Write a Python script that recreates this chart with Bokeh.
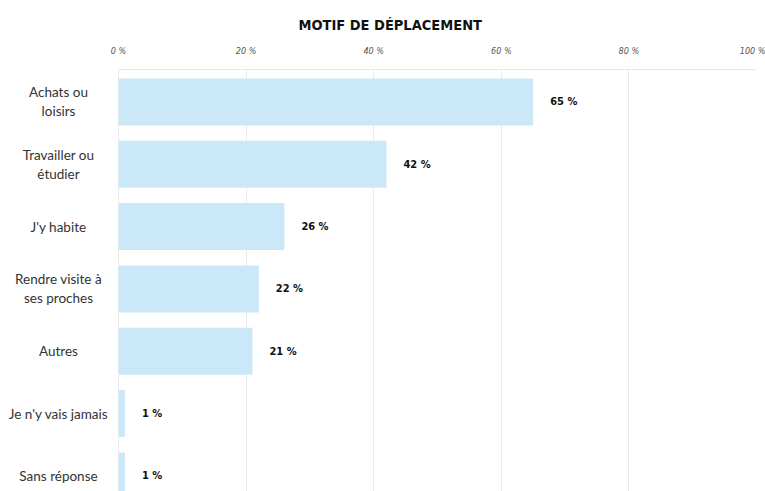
from bokeh.plotting import figure
from bokeh.models import Range1d, FixedTicker, ColumnDataSource, LabelSet
from bokeh.core.properties import value
from bokeh.embed import file_html
from bokeh.resources import INLINE

categories = ["Achats ou\nloisirs", "Travailler ou\nétudier", "J'y habite",
              "Rendre visite à\nses proches", "Autres", "Je n'y vais jamais", "Sans réponse"]
values = [65, 42, 26, 22, 21, 1, 1]
value_labels = ["65 %", "42 %", "26 %", "22 %", "21 %", "1 %", "1 %"]
x_ticks = [0, 20, 40, 60, 80, 100]
x_tick_labels = ["0 %", "20 %", "40 %", "60 %", "80 %", "100 %"]

NARROW = "'Liberation Sans Narrow', 'DejaVu Sans Condensed', sans-serif"
LINE_GAP = 19  # px between lines of a two-line category label

positions = list(range(len(categories)))
src = ColumnDataSource(dict(y=positions, v=values, lab=value_labels))

# split category labels into centred single lines
line_y, line_txt, line_off = [], [], []
for pos, cat in zip(positions, categories):
    parts = cat.split("\n")
    n = len(parts)
    for i, part in enumerate(parts):
        line_y.append(pos)
        line_txt.append(part)
        line_off.append(((n - 1) / 2 - i) * LINE_GAP)
cat_src = ColumnDataSource(dict(y=line_y, t=line_txt, off=line_off, zero=[0] * len(line_y)))

# frame spans the whole width; the label column lives left of 0 %
p = figure(width=765, height=491, output_backend="svg", toolbar_location=None,
           x_range=Range1d(-118 / 6.38, 100), y_range=Range1d(6.25, -0.52),
           x_axis_location="above", min_border_left=0, min_border_right=9,
           min_border_top=69, min_border_bottom=0)
p.outline_line_color = None
p.background_fill_color = "white"
p.border_fill_color = "white"

p.hbar(y="y", right="v", left=0, height=0.755, source=src,
       fill_color="#cbe8f9", line_color=None)

# top axis
xa = p.xaxis[0]
xa.ticker = FixedTicker(ticks=x_ticks)
xa.bounds = (0, 100)
xa.major_label_overrides = {t: l for t, l in zip(x_ticks, x_tick_labels)}
xa.axis_line_color = "#e6e6e6"
xa.major_tick_line_color = None
xa.minor_tick_line_color = None
xa.major_label_standoff = 8
xa.major_label_text_font = NARROW
xa.major_label_text_font_style = "italic"
xa.major_label_text_font_size = "9px"
xa.major_label_text_color = "#555555"

p.yaxis.visible = False
p.ygrid.grid_line_color = None
p.xgrid.ticker = FixedTicker(ticks=x_ticks)
p.xgrid.grid_line_color = "#ebebeb"

# category labels
cat_labels = LabelSet(x="zero", y="y", text="t", source=cat_src, x_offset=-60,
                      y_offset="off", text_align="center", text_baseline="middle",
                      text_font=value("Lato"), text_font_size="13.5px",
                      text_color="#333333")
p.add_layout(cat_labels)

# value labels
val_labels = LabelSet(x="v", y="y", text="lab", source=src, x_offset=17,
                      text_align="left", text_baseline="middle",
                      text_font=value(NARROW), text_font_style="bold",
                      text_font_size="11px", text_color="#111111")
p.add_layout(val_labels)

p.title.text = "MOTIF DE DÉPLACEMENT"
p.title.align = "left"
p.title.offset = 298
p.title.standoff = 19
p.title.text_font = NARROW
p.title.text_font_size = "14.5px"
p.title.text_font_style = "bold"
p.title.text_color = "#111111"

open("out.html", "w").write(file_html(p, INLINE))
